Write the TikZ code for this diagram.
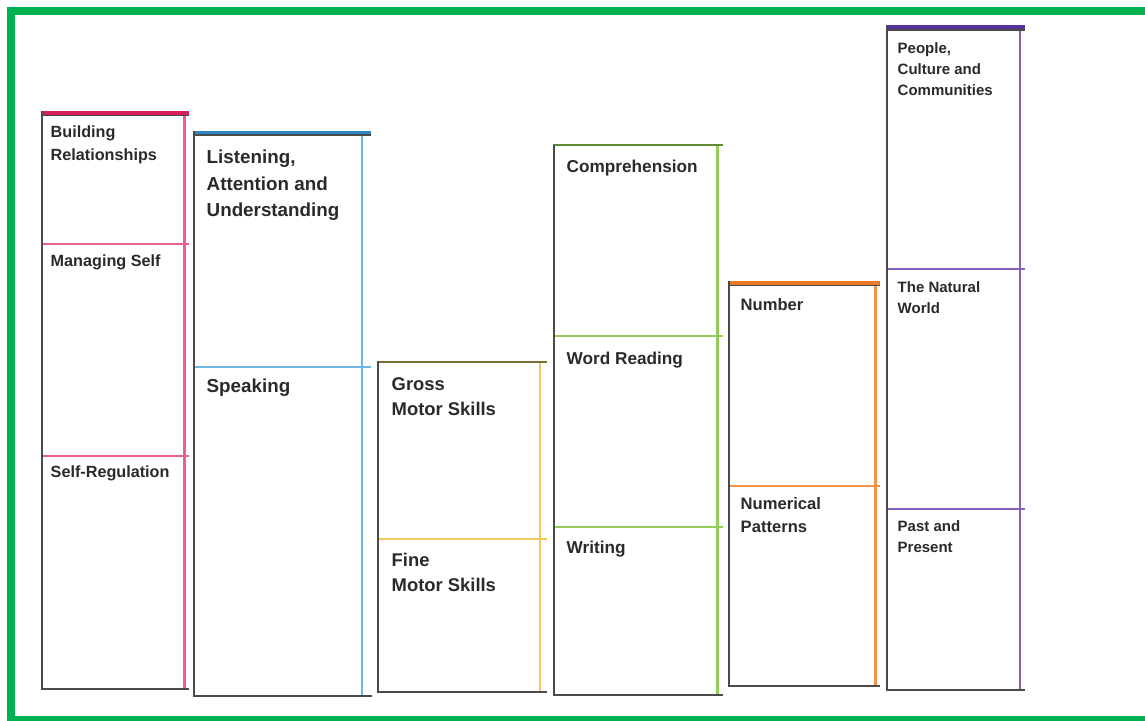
\documentclass[tikz,border=0pt]{standalone}
\usepackage{fontspec}
\setmainfont{Liberation Sans}
\definecolor{frame}{HTML}{00AF50}
\definecolor{dark}{HTML}{4A4A4A}
\definecolor{txt}{HTML}{2A2A2A}
\definecolor{pinkbar}{HTML}{D81F5A}
\definecolor{pinkline}{HTML}{EC5F8C}
\definecolor{bluebar}{HTML}{2C88C6}
\definecolor{blueline}{HTML}{6DB6E3}
\definecolor{yellowtop}{HTML}{7D6A35}
\definecolor{yellowline}{HTML}{F3C95E}
\definecolor{greentop}{HTML}{5E8C34}
\definecolor{greenline}{HTML}{94CD5A}
\definecolor{orangebar}{HTML}{EE7A26}
\definecolor{orangeline}{HTML}{F5924A}
\definecolor{purplebar}{HTML}{55339A}
\definecolor{purpleline}{HTML}{8460BC}
\begin{document}
\begin{tikzpicture}[x=1pt,y=-1pt,
  dk/.style={draw=dark, line width=2pt},
  dkthin/.style={draw=dark, line width=1.5pt},
  cl/.style={draw=#1, line width=2.1pt},
  bar/.style={draw=#1, line width=3.6pt},
  lbl/.style={anchor=base west, inner sep=0pt, align=left, text=txt},
  fa/.style={font=\fontsize{16.2}{22.3}\selectfont\bfseries},
  fb/.style={font=\fontsize{18.8}{26.7}\selectfont\bfseries},
  fc/.style={font=\fontsize{18.4}{25.3}\selectfont\bfseries},
  fd/.style={font=\fontsize{17.2}{24}\selectfont\bfseries},
  fe/.style={font=\fontsize{16.6}{23.5}\selectfont\bfseries},
  ff/.style={font=\fontsize{15}{21}\selectfont\bfseries}]
\useasboundingbox (0,0) rectangle (1145,720);
\clip (0,0) rectangle (1145,720);
\fill[white] (0,0) rectangle (1145,720);
% frame
\draw[frame, line width=7.6pt] (10.8,11.2) rectangle (1170,720);

% column 1 (pink)
\draw[bar=pinkbar] (40.6,112.9) -- (189,112.9);
\draw[dkthin] (40.6,115.6) -- (189,115.6);
\draw[cl=pinkline] (184.5,116) -- (184.5,689);
\draw[cl=pinkline] (41.5,244.3) -- (189,244.3);
\draw[cl=pinkline] (41.5,456) -- (189,456);
\draw[dk] (41.5,111) -- (41.5,689) -- (189,689);
\node[lbl,fa] (n1a) at (50.5,160) {Building\\Relationships};
\node[lbl,fa] (n1b) at (50.5,266.5) {Managing Self};
\node[lbl,fa] (n1c) at (50.5,477.7) {Self-Regulation};

% column 2 (blue)
\draw[bar=bluebar] (192.6,132.7) -- (370.7,132.7);
\draw[dkthin] (192.6,135.2) -- (370.7,135.2);
\draw[cl=blueline] (362.3,136) -- (362.3,696);
\draw[cl=blueline] (193.5,366.7) -- (370.7,366.7);
\draw[dk] (193.5,131) -- (193.5,696) -- (372,696);
\node[lbl,fb] (n2a) at (206.5,216.7) {Listening,\\Attention and\\Understanding};
\node[lbl,fb] (n2b) at (206.5,392.7) {Speaking};

% column 3 (yellow)
\draw[cl=yellowline] (539.6,362) -- (539.6,691.7);
\draw[cl=yellowline] (378.3,539) -- (546.5,539);
\draw[draw=yellowtop, line width=2pt] (377.4,361.7) -- (546.5,361.7);
\draw[dk] (378.3,361) -- (378.3,691.7) -- (546.5,691.7);
\node[lbl,fc] (n3a) at (391.5,415.3) {Gross\\Motor Skills};
\node[lbl,fc] (n3b) at (391.5,591.3) {Fine\\Motor Skills};

% column 4 (green)
\draw[cl=greenline] (717.5,145) -- (717.5,694.7);
\draw[cl=greenline] (553.5,336) -- (722.7,336);
\draw[cl=greenline] (553.5,527) -- (722.7,527);
\draw[draw=greentop, line width=2pt] (552.6,145) -- (722.7,145);
\draw[dk] (553.5,144.5) -- (553.5,694.7) -- (722.7,694.7);
\node[lbl,fd] (n4a) at (566.5,172.3) {Comprehension};
\node[lbl,fd] (n4b) at (566.5,364) {Word Reading};
\node[lbl,fd] (n4c) at (566.5,553) {Writing};

% column 5 (orange)
\draw[bar=orangebar] (727.6,282.8) -- (880,282.8);
\draw[dkthin] (727.6,285.4) -- (880,285.4);
\draw[cl=orangeline] (875.5,286) -- (875.5,685.7);
\draw[cl=orangeline] (728.5,486) -- (880,486);
\draw[dk] (728.5,281) -- (728.5,685.7) -- (880,685.7);
\node[lbl,fe] (n5a) at (740.5,310.7) {Number};
\node[lbl,fe] (n5b) at (740.5,532.8) {Numerical\\Patterns};

% column 6 (purple)
\draw[bar=purplebar] (886.4,27) -- (1025,27);
\draw[dkthin] (886.4,29.8) -- (1025,29.8);
\draw[cl=purpleline] (1020,30.5) -- (1020,690);
\draw[cl=purpleline] (887.3,269.3) -- (1025,269.3);
\draw[cl=purpleline] (887.3,509) -- (1025,509);
\draw[dk] (887.3,25) -- (887.3,690) -- (1025,690);
\node[lbl,ff] (n6a) at (897.5,95) {People,\\Culture and\\Communities};
\node[lbl,ff] (n6b) at (897.5,313.3) {The Natural\\World};
\node[lbl,ff] (n6c) at (897.5,552.5) {Past and\\Present};
\end{tikzpicture}
\end{document}
